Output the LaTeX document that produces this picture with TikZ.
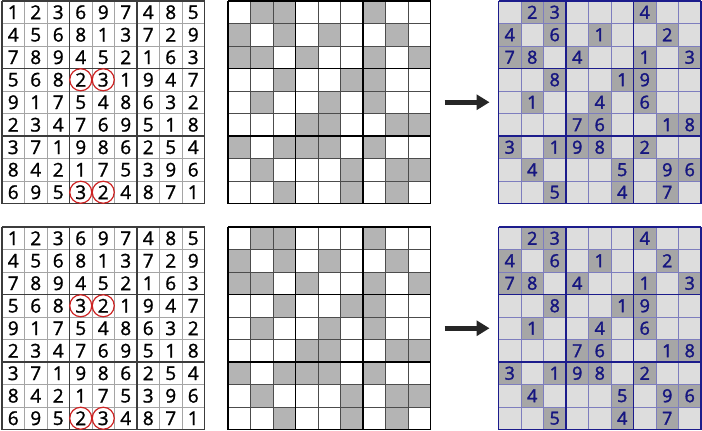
\documentclass[tikz,border=0pt]{standalone}
\usepackage{fontspec}
\setmainfont{Open Sans}
\newfontfamily\soldigits[RawFeature={embolden=1.3}]{Open Sans}
\newfontfamily\puzdigits[RawFeature={embolden=1.8}]{Open Sans}
\usepackage{xcolor}
\usepackage{tikz}
\usetikzlibrary{arrows.meta, positioning}
\definecolor{solthingray}{RGB}{165,165,165}
\definecolor{solthickgray}{RGB}{60,60,60}
\definecolor{maskgray}{RGB}{180,180,180}
\definecolor{puzzlebg}{RGB}{221,221,221}
\definecolor{givengray}{RGB}{166,166,166}
\definecolor{gridnavy}{RGB}{28,28,140}
\definecolor{thinnavy}{RGB}{125,125,190}
\definecolor{digitnavy}{RGB}{22,22,128}
\definecolor{swapred}{RGB}{205,35,35}

\newcommand{\solrowsa}{{1,2,3,6,9,7,4,8,5},{4,5,6,8,1,3,7,2,9},{7,8,9,4,5,2,1,6,3},{5,6,8,2,3,1,9,4,7},{9,1,7,5,4,8,6,3,2},{2,3,4,7,6,9,5,1,8},{3,7,1,9,8,6,2,5,4},{8,4,2,1,7,5,3,9,6},{6,9,5,3,2,4,8,7,1}}
\newcommand{\solrowsb}{{1,2,3,6,9,7,4,8,5},{4,5,6,8,1,3,7,2,9},{7,8,9,4,5,2,1,6,3},{5,6,8,3,2,1,9,4,7},{9,1,7,5,4,8,6,3,2},{2,3,4,7,6,9,5,1,8},{3,7,1,9,8,6,2,5,4},{8,4,2,1,7,5,3,9,6},{6,9,5,2,3,4,8,7,1}}
\newcommand{\puzzlerows}{{0,2,3,0,0,0,4,0,0},{4,0,6,0,1,0,0,2,0},{7,8,0,4,0,0,1,0,3},{0,0,8,0,0,1,9,0,0},{0,1,0,0,4,0,6,0,0},{0,0,0,7,6,0,0,1,8},{3,0,1,9,8,0,2,0,0},{0,4,0,0,0,5,0,9,6},{0,0,5,0,0,4,0,7,0}}

\tikzset{
    gridframe/.style={minimum size=202.5pt, inner sep=0pt, outer sep=0pt},
    solcell/.style={inner sep=0pt, font=\soldigits\fontsize{19}{19}\selectfont},
    puzcell/.style={inner sep=0pt, text=digitnavy, font=\puzdigits\fontsize{18}{18}\selectfont},
    solthin/.style={solthingray, line width=0.8pt},
    solthick/.style={solthickgray, line width=1.3pt},
    maskthin/.style={black!70, line width=0.9pt},
    maskthick/.style={black, line width=1.8pt},
    puzthin/.style={thinnavy, line width=0.9pt},
    puzthick/.style={gridnavy, line width=1.4pt},
    swapring/.style={circle, draw=swapred, line width=1.2pt, minimum size=22pt, inner sep=0pt},
    bigarrow/.style={-{Triangle[length=13pt, width=15pt]}, line width=5pt, black!85}
}

\begin{document}
\begin{tikzpicture}[x=1pt, y=-1pt]
            \useasboundingbox (0,0) rectangle (702,431);
            \node (sol-a) [gridframe, anchor=north west] at (2,1) {};
            \node (mask-a) [gridframe, right=23.5pt of sol-a] {};
            \node (puz-a) [gridframe, right=68pt of mask-a] {};
            \node (sol-b) [gridframe, below=23.5pt of sol-a] {};
            \node (mask-b) [gridframe, right=23.5pt of sol-b] {};
            \node (puz-b) [gridframe, right=68pt of mask-b] {};

            \foreach \g in {a, b} {
                \expandafter\let\expandafter\rows\csname solrows\g\endcsname
                \begin{scope}[shift={(sol-\g.north west)}]
                    \foreach \rowdata [count=\r] in \rows {
                        \foreach \d [count=\c] in \rowdata {
                            \node (sol-\g-\r-\c) [solcell] at ({(\c-0.5)*22.5},{(\r-0.5)*22.5}) {\d};
                        }
                    }
                    \foreach \i in {0,...,9} {
                        \draw[solthin] (\i*22.5,0) -- (\i*22.5,202.5);
                        \draw[solthin] (0,\i*22.5) -- (202.5,\i*22.5);
                    }
                    \foreach \i in {0,3,6,9} {
                        \draw[solthick] (\i*22.5,0) -- (\i*22.5,202.5);
                        \draw[solthick] (0,\i*22.5) -- (202.5,\i*22.5);
                    }
                \end{scope}
                \foreach \r/\c in {4/4, 4/5, 9/4, 9/5}
                    \node (ring-\g-\r-\c) [swapring] at (sol-\g-\r-\c) {};

                \begin{scope}[shift={(mask-\g.north west)}]
                    \foreach \rowdata [count=\r] in \puzzlerows {
                        \foreach \d [count=\c] in \rowdata {
                            \ifnum\d>0
                                \fill[maskgray] ({(\c-1)*22.5},{(\r-1)*22.5}) rectangle ++(22.5,22.5);
                            \fi
                        }
                    }
                    \foreach \i in {0,...,9} {
                        \draw[maskthin] (\i*22.5,0) -- (\i*22.5,202.5);
                        \draw[maskthin] (0,\i*22.5) -- (202.5,\i*22.5);
                    }
                    \foreach \i in {0,3,6,9} {
                        \draw[maskthick] (\i*22.5,0) -- (\i*22.5,202.5);
                        \draw[maskthick] (0,\i*22.5) -- (202.5,\i*22.5);
                    }
                \end{scope}

                \begin{scope}[shift={(puz-\g.north west)}]
                    \fill[puzzlebg] (0,0) rectangle (202.5,202.5);
                    \foreach \rowdata [count=\r] in \puzzlerows {
                        \foreach \d [count=\c] in \rowdata {
                            \ifnum\d>0
                                \fill[givengray] ({(\c-1)*22.5},{(\r-1)*22.5}) rectangle ++(22.5,22.5);
                                \node (puz-\g-\r-\c) [puzcell] at ({(\c-0.5)*22.5},{(\r-0.5)*22.5}) {\d};
                            \fi
                        }
                    }
                    \foreach \i in {0,...,9} {
                        \draw[puzthin] (\i*22.5,0) -- (\i*22.5,202.5);
                        \draw[puzthin] (0,\i*22.5) -- (202.5,\i*22.5);
                    }
                    \foreach \i in {0,3,6,9} {
                        \draw[puzthick] (\i*22.5,0) -- (\i*22.5,202.5);
                        \draw[puzthick] (0,\i*22.5) -- (202.5,\i*22.5);
                    }
                \end{scope}

                \draw[bigarrow] ([xshift=14pt]mask-\g.east) -- ([xshift=-9pt]puz-\g.west);
            }
\end{tikzpicture}
\end{document}
